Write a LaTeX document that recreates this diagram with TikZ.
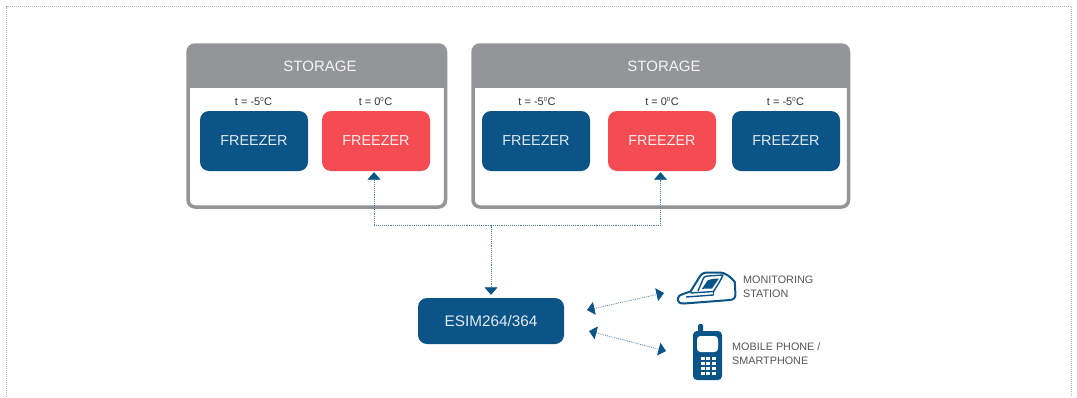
\documentclass[tikz,border=0pt]{standalone}
\usepackage{fontspec}
\setmainfont{Liberation Sans}
\usetikzlibrary{arrows.meta,calc}
\definecolor{esblue}{HTML}{0B5487}
\definecolor{esred}{HTML}{F44C52}
\definecolor{esgrey}{HTML}{939598}
\definecolor{eslabel}{HTML}{55565A}
\tikzset{
  x=1pt,y=-1pt,
  storagebox/.style={draw=esgrey,line width=3.5pt,rounded corners=7pt,fill=white},
  headtext/.style={text=white!90!esgrey,font=\fontsize{15}{15}\selectfont,inner sep=0pt},
  fridge/.style={rounded corners=9pt,minimum width=108pt,minimum height=60pt,inner sep=0pt,text=white!88!esblue,font=\fontsize{14.4}{14.4}\selectfont},
  bluefridge/.style={fridge,fill=esblue},
  redfridge/.style={fridge,fill=esred,text=white!90!esred},
  templabel/.style={text=black!80,font=\fontsize{11}{11}\selectfont,inner sep=0pt},
  sidelabel/.style={text=eslabel,font=\fontsize{10.8}{14}\selectfont,inner sep=0pt,align=left,anchor=west},
  esimbox/.style={fill=esblue,rounded corners=9pt,minimum width=146pt,minimum height=46pt,inner sep=0pt,text=white!88!esblue,font=\fontsize{15.3}{15.3}\selectfont},
  link/.style={draw=esblue!75!white,line width=0.8pt,dash pattern=on 0.8pt off 1.1pt},
  tip/.style={-{Triangle[width=13pt,length=7.5pt,color=esblue]}},
  tips/.style={{Triangle[width=13pt,length=7.5pt,color=esblue]}-{Triangle[width=13pt,length=7.5pt,color=esblue]}},
}
\newcommand{\degC}[1]{t = #1\textsuperscript{\fontsize{6}{6}\selectfont 0}C}
\begin{document}
\begin{tikzpicture}
\useasboundingbox (0,0) rectangle (1077,397);
\fill[white] (0,0) rectangle (1077,397);
% page frame
\draw[black!30,line width=0.7pt,dash pattern=on 1pt off 1pt] (6.5,397) -- (6.5,6.5) -- (1071.5,6.5) -- (1071.5,397);

% left storage
\draw[storagebox] (188,45) rectangle (445.5,207);
\fill[esgrey,rounded corners=7pt] (188,45) rectangle (445.5,70);
\fill[esgrey] (188,60) rectangle (445.5,88);
\node[headtext] (s1) at (320,66) {STORAGE};
\node[bluefridge] (f1) at (254,141) {FREEZER};
\node[redfridge] (f2) at (376,141) {FREEZER};
\node[templabel] (t1) at (253.5,101) {\degC{-5}};
\node[templabel] (t2) at (375.5,101) {\degC{0}};

% right storage
\draw[storagebox] (473,45) rectangle (848.5,207);
\fill[esgrey,rounded corners=7pt] (473,45) rectangle (848.5,70);
\fill[esgrey] (473,60) rectangle (848.5,88);
\node[headtext] (s2) at (664,66) {STORAGE};
\node[bluefridge] (f3) at (536,141) {FREEZER};
\node[redfridge] (f4) at (662,141) {FREEZER};
\node[bluefridge] (f5) at (786,141) {FREEZER};
\node[templabel] (t3) at (537,101) {\degC{-5}};
\node[templabel] (t4) at (662,101) {\degC{0}};
\node[templabel] (t5) at (785.5,101) {\degC{-5}};

% controller
\node[esimbox] (esim) at (491,321) {ESIM264/364\hspace{5pt}};
\coordinate (bus) at (491,225.5);
\coordinate (mon) at (664,293);
\coordinate (monfrom) at (587,310);
\coordinate (tel) at (666,351);
\coordinate (telfrom) at (589,331);

\draw[link,tip] (bus) -| ($(f2.south)+(-2,1)$);
\draw[link,tip] (bus) -| ($(f4.south)+(-1.5,1)$);
\draw[link,tip] (bus) -- ($(esim.north)+(0,-3)$);
\draw[link,tips] (monfrom) -- (mon);
\draw[link,tips] (telfrom) -- (tel);

% monitoring station icon
\draw[esblue,line width=2pt,line join=round,fill=white]
  (677.8,298.5) .. controls (678,296) and (680,295) .. (683,294) -- (690.5,291.5)
  -- (699.5,277) .. controls (701.5,273.5) and (704,272.5) .. (708,272.5) -- (720,272.5)
  .. controls (725,272.5) and (731,277) .. (734.8,282)
  -- (735.4,294) .. controls (735.6,298) and (733.5,299.5) .. (730,300)
  -- (684,303.5) .. controls (679.5,303.7) and (677.8,302) .. (677.8,298.5) -- cycle;
\draw[esblue,line width=1.4pt,line join=round] (698,291) -- (703.5,278) .. controls (704.5,276.5) and (706,276) .. (708,276) -- (723,275) .. controls (721,280) and (717,286) .. (713.5,291.5) -- (690.5,293);
\draw[esblue,line width=1.4pt,line join=round] (686,297) -- (713.5,295);
\draw[esblue,line width=1.4pt] (713.5,295) -- (713.5,291.5);
\fill[esblue] (702,288.8) -- (707.5,280.5) .. controls (710,279) and (715,278.5) .. (719,278.5) -- (712,288.5) -- cycle;

% mobile phone icon
\fill[esblue,rounded corners=1.5pt] (698,333) rectangle (703,324);
\fill[esblue,rounded corners=4pt] (693,331) rectangle (722,380);
\fill[white,rounded corners=3.5pt] (697,336) rectangle (718,352);
\foreach \r in {0,1,2,3}{\foreach \c in {0,1,2}{
  \fill[white] ({700.5+5.5*\c},{356.5+5*\r}) rectangle ++(4,3.8);
}}

% side labels
\node[sidelabel] (lm) at (743,287) {MONITORING\\STATION};
\node[sidelabel] (lp) at (732,354) {MOBILE PHONE /\\SMARTPHONE};
\end{tikzpicture}
\end{document}
